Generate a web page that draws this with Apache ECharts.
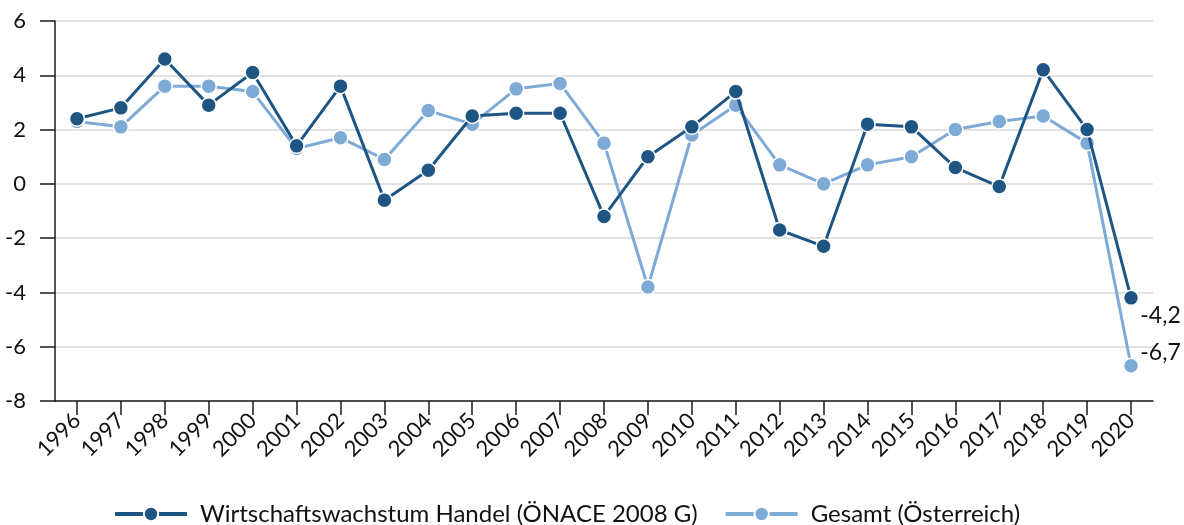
<!DOCTYPE html>
<html>
<head>
<meta charset="utf-8">
<script src="https://cdn.jsdelivr.net/npm/echarts@6/dist/echarts.min.js"></script>
<style>
	html, body { margin: 0; padding: 0; background: #fff; }
	#chart { width: 1184px; height: 525px; }
</style>
</head>
<body>
<div id="chart"></div>
<script>
var years = ['1996', '1997', '1998', '1999', '2000', '2001', '2002', '2003', '2004', '2005',
	'2006', '2007', '2008', '2009', '2010', '2011', '2012', '2013', '2014', '2015',
	'2016', '2017', '2018', '2019', '2020'];
// Wirtschaftswachstum Handel (ÖNACE 2008 G)
var handel = [2.4, 2.8, 4.6, 2.9, 4.1, 1.4, 3.6, -0.6, 0.5, 2.5,
	2.6, 2.6, -1.2, 1.0, 2.1, 3.4, -1.7, -2.3, 2.2, 2.1,
	0.6, -0.1, 4.2, 2.0, -4.2];
// Gesamt (Österreich)
var gesamt = [2.3, 2.1, 3.6, 3.6, 3.4, 1.3, 1.7, 0.9, 2.7, 2.2,
	3.5, 3.7, 1.5, -3.8, 1.8, 2.9, 0.7, 0.0, 0.7, 1.0,
	2.0, 2.3, 2.5, 1.5, -6.7];
var seriesNames = ['Wirtschaftswachstum Handel (ÖNACE 2008 G)', 'Gesamt (Österreich)'];
var yMin = -8, yMax = 6, yStep = 2;

var font = 'Lato';
var darkBlue = '#1f5582';
var lightBlue = '#7eaad6';
var axisColor = '#1a1a1a';

// nur den letzten Wert beschriften
function lastLabel(arr, offset) {
	return arr.map(function(v, i) {
		if (i !== arr.length - 1) return v;
		return {
			value : v,
			label : {
				show : true,
				position : 'right',
				offset : offset,
				fontFamily : font,
				fontSize : 23,
				color : '#111',
				formatter : function(p) {
					return String(p.value).replace('.', ',');
				}
			}
		};
	});
}

var myChart = echarts.init(document.getElementById('chart'));
var option = {
	animation : false,
	grid : {
		left : 55,
		right : 31,
		top : 21,
		bottom : 124
	},
	legend : {
		top : 497,
		left : 108,
		itemWidth : 72,
		itemHeight : 18,
		itemGap : 26,
		lineStyle : { width : 4 },
		textStyle : {
			fontFamily : font,
			fontSize : 24,
			color : '#111',
			padding : [0, 0, 0, 8]
		},
		data : seriesNames
	},
	xAxis : {
		type : 'category',
		data : years,
		boundaryGap : true,
		axisLine : { onZero : false, lineStyle : { color : axisColor, width : 1.5 } },
		axisTick : { show : true, alignWithLabel : true, length : 14, lineStyle : { color : axisColor, width : 1.5 } },
		axisLabel : {
			rotate : 45,
			margin : 16,
			fontFamily : font,
			fontSize : 22,
			color : '#111',
			interval : 0
		}
	},
	yAxis : {
		type : 'value',
		min : yMin,
		max : yMax,
		interval : yStep,
		axisLine : { show : true, lineStyle : { color : axisColor, width : 1.5 } },
		axisTick : { show : true, length : 15, lineStyle : { color : axisColor, width : 1.5 } },
		splitLine : { show : true, lineStyle : { color : '#d9d9d9', width : 1.5 } },
		axisLabel : {
			margin : 29,
			fontFamily : font,
			fontSize : 22,
			color : '#111'
		}
	},
	series : [ {
		name : seriesNames[0],
		type : 'line',
		data : lastLabel(handel, [-4, 18]),
		symbol : 'circle',
		symbolSize : 15,
		z : 3,
		lineStyle : { color : darkBlue, width : 3 },
		itemStyle : { color : darkBlue, borderColor : '#fff', borderWidth : 1.5 }
	}, {
		name : seriesNames[1],
		type : 'line',
		data : lastLabel(gesamt, [-4, -13]),
		symbol : 'circle',
		symbolSize : 15,
		z : 2,
		lineStyle : { color : lightBlue, width : 3 },
		itemStyle : { color : lightBlue, borderColor : '#fff', borderWidth : 1.5 }
	} ]
};
myChart.setOption(option);
</script>
</body>
</html>
